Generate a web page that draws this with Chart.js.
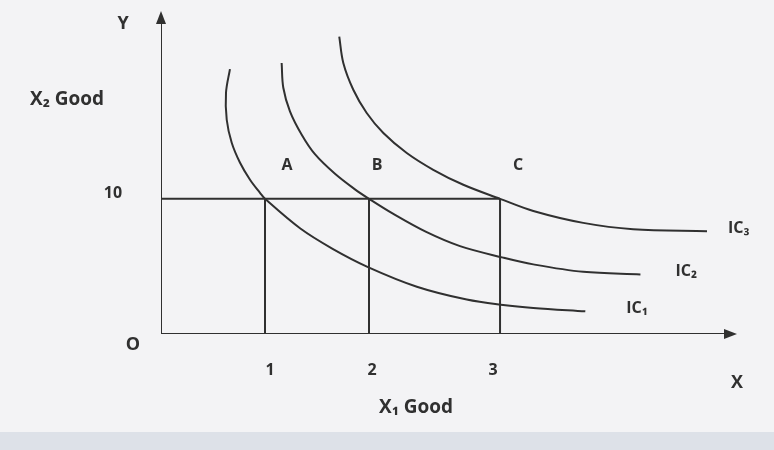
<!DOCTYPE html>
<html>
<head>
<meta charset="utf-8">
<script src="https://cdn.jsdelivr.net/npm/chart.js@4/dist/chart.umd.min.js"></script>
<style>
  html, body { margin: 0; padding: 0; background: #f3f3f5; }
  #wrap { width: 774px; height: 450px; position: relative; }
  #band { position: absolute; left: 0; right: 0; top: 432px; height: 18px; background: #dde1e8; }
</style>
</head>
<body>
<div id="wrap">
  <canvas id="icChart" width="774" height="450"></canvas>
  <div id="band"></div>
</div>
<script>
// indifference curves (x = X1 good, y = X2 good)
const ic1 = [[0.663, 19.6], [0.625, 17.85], [0.632, 15.85], [0.68, 14.15], [0.76, 12.67], [0.856, 11.41],
  [0.952, 10.44], [1.0, 10], [1.34, 7.8], [1.65, 6.3], [1.99, 4.95], [2.46, 3.5], [2.94, 2.55],
  [3.29, 2.15], [3.58, 1.93], [4.08, 1.68]];
const ic2 = [[1.16, 20.05], [1.176, 18.22], [1.24, 16.47], [1.353, 14.74], [1.48, 13.3], [1.673, 11.85],
  [1.865, 10.7], [2.0, 10], [2.23, 8.9], [2.55, 7.55], [2.875, 6.5], [3.29, 5.65], [3.58, 5.15],
  [4.06, 4.6], [4.61, 4.4]];
const ic3 = [[1.714, 22.0], [1.753, 20.05], [1.849, 18.07], [1.978, 16.35], [2.138, 14.87], [2.363, 13.39],
  [2.618, 12.15], [2.907, 11.04], [3.26, 10], [3.58, 9.1], [4.06, 8.22], [4.54, 7.75], [5.25, 7.6]];
const curveNames = ['IC₁', 'IC₂', 'IC₃'];

// combinations A, B, C all give 10 units of X2
const pointNames = ['A', 'B', 'C'];
const pointX = [1, 2, 3.26];
const pointY = [10, 10, 10];
const xTickLabels = ['1', '2', '3'];
const yTickLabel = '10';

const xMax = 5.5;
const yMax = 23.6;
const ink = '#303030';

const toXY = arr => arr.map(p => ({ x: p[0], y: p[1] }));

// guide lines: horizontal at 10 up to C, verticals down from A, B, C
const guides = [{ x: 0, y: pointY[0] }, { x: pointX[2], y: pointY[2] }, { x: null, y: null }];
pointX.forEach((x, i) => {
  guides.push({ x: x, y: pointY[i] }, { x: x, y: 0 }, { x: null, y: null });
});

const axes = [{ x: 0, y: yMax }, { x: 0, y: 0 }, { x: xMax, y: 0 }];

const textPlugin = {
  id: 'textPlugin',
  afterDatasetsDraw(chart) {
    const ctx = chart.ctx;
    const xs = chart.scales.x, ys = chart.scales.y;
    const x0 = xs.getPixelForValue(0), y0 = ys.getPixelForValue(0);
    const xEnd = xs.getPixelForValue(xMax), yEnd = ys.getPixelForValue(yMax);
    ctx.save();
    ctx.fillStyle = ink;
    // arrow heads
    ctx.beginPath();
    ctx.moveTo(x0, yEnd - 4); ctx.lineTo(x0 - 5, yEnd + 9); ctx.lineTo(x0 + 5, yEnd + 9);
    ctx.closePath(); ctx.fill();
    ctx.beginPath();
    ctx.moveTo(xEnd + 4, y0); ctx.lineTo(xEnd - 9, y0 - 5); ctx.lineTo(xEnd - 9, y0 + 5);
    ctx.closePath(); ctx.fill();

    ctx.textAlign = 'center';
    ctx.textBaseline = 'middle';
    ctx.font = 'bold 18px "Open Sans", sans-serif';
    ctx.fillText('Y', x0 - 38, 24);
    ctx.fillText('X', xEnd + 4, y0 + 49);
    ctx.fillText('O', x0 - 28, y0 + 11);

    ctx.font = 'bold 16px "Open Sans", sans-serif';
    ctx.fillText(yTickLabel, x0 - 48, ys.getPixelForValue(10) - 5);
    const tickOffset = [5, 3, -7];
    pointX.forEach((x, i) => {
      ctx.fillText(xTickLabels[i], xs.getPixelForValue(x) + tickOffset[i], y0 + 36);
      ctx.fillText(pointNames[i], xs.getPixelForValue(x) + [22, 8, 18][i], ys.getPixelForValue(pointY[i]) - 33);
    });

    ctx.textAlign = 'left';
    ctx.font = 'bold 19px "Open Sans", sans-serif';
    ctx.fillText('X₂ Good', 30, 100);
    ctx.fillText('X₁ Good', 379, 408);

    ctx.font = 'bold 16px "Open Sans", sans-serif';
    [ic1, ic2, ic3].forEach((c, i) => {
      const last = c[c.length - 1];
      ctx.fillText(curveNames[i], xs.getPixelForValue(last[0]) + [41, 35, 21][i], ys.getPixelForValue(last[1]) - 3);
    });
    ctx.restore();
  }
};

const lineStyle = { borderColor: ink, borderWidth: 2, pointRadius: 0, showLine: true, fill: false };

new Chart(document.getElementById('icChart'), {
  type: 'scatter',
  data: {
    datasets: [
      { ...lineStyle, data: axes, tension: 0 },
      { ...lineStyle, data: guides, tension: 0, spanGaps: false },
      { ...lineStyle, data: toXY(ic1), tension: 0.35 },
      { ...lineStyle, data: toXY(ic2), tension: 0.35 },
      { ...lineStyle, data: toXY(ic3), tension: 0.35 }
    ]
  },
  options: {
    responsive: false,
    animation: false,
    layout: { padding: { left: 161, right: 41, top: 15, bottom: 116 } },
    plugins: { legend: { display: false }, tooltip: { enabled: false } },
    scales: {
      x: { type: 'linear', min: 0, max: xMax, display: false },
      y: { type: 'linear', min: 0, max: yMax, display: false }
    }
  },
  plugins: [textPlugin]
});
</script>
</body>
</html>
